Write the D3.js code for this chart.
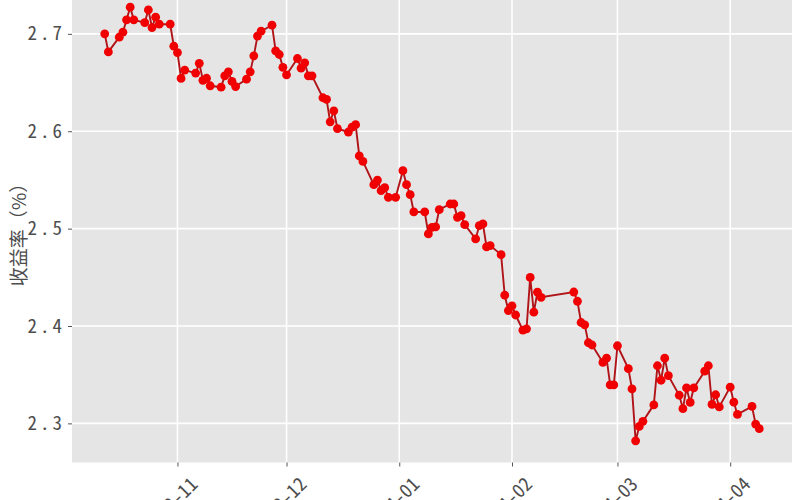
<!DOCTYPE html>
<html>
<head>
<meta charset="utf-8">
<script src="https://cdn.jsdelivr.net/npm/d3@7"></script>
<style>
  html, body { margin: 0; padding: 0; background: #ffffff; }
  svg { display: block; }
</style>
</head>
<body>
<svg id="chart" width="800" height="500"></svg>
<script>
const dates = [
  "2023-10-12","2023-10-13","2023-10-16","2023-10-17","2023-10-18","2023-10-19","2023-10-20",
  "2023-10-23","2023-10-24","2023-10-25","2023-10-26","2023-10-27","2023-10-30","2023-10-31",
  "2023-11-01","2023-11-02","2023-11-03","2023-11-06","2023-11-07","2023-11-08","2023-11-09",
  "2023-11-10","2023-11-13","2023-11-14","2023-11-15","2023-11-16","2023-11-17","2023-11-20",
  "2023-11-21","2023-11-22","2023-11-23","2023-11-24","2023-11-27","2023-11-28","2023-11-29",
  "2023-11-30","2023-12-01","2023-12-04","2023-12-05","2023-12-06","2023-12-07","2023-12-08",
  "2023-12-11","2023-12-12","2023-12-13","2023-12-14","2023-12-15","2023-12-18","2023-12-19",
  "2023-12-20","2023-12-21","2023-12-22","2023-12-25","2023-12-26","2023-12-27","2023-12-28",
  "2023-12-29","2023-12-31","2024-01-02","2024-01-03","2024-01-04","2024-01-05","2024-01-08",
  "2024-01-09","2024-01-10","2024-01-11","2024-01-12","2024-01-15","2024-01-16","2024-01-17",
  "2024-01-18","2024-01-19","2024-01-22","2024-01-23","2024-01-24","2024-01-25","2024-01-26",
  "2024-01-29","2024-01-30","2024-01-31","2024-02-01","2024-02-02","2024-02-04","2024-02-05",
  "2024-02-06","2024-02-07","2024-02-08","2024-02-09","2024-02-18","2024-02-19","2024-02-20",
  "2024-02-21","2024-02-22","2024-02-23","2024-02-26","2024-02-27","2024-02-28","2024-02-29",
  "2024-03-01","2024-03-04","2024-03-05","2024-03-06","2024-03-07","2024-03-08","2024-03-11",
  "2024-03-12","2024-03-13","2024-03-14","2024-03-15","2024-03-18","2024-03-19","2024-03-20",
  "2024-03-21","2024-03-22","2024-03-25","2024-03-26","2024-03-27","2024-03-28","2024-03-29",
  "2024-04-01","2024-04-02","2024-04-03","2024-04-07","2024-04-08","2024-04-09"
];
const yields = [
  2.700,2.6815,2.6966,2.7017,2.7144,2.7274,2.7144,
  2.7116,2.7246,2.7065,2.7171,2.7099,2.7099,2.6874,
  2.6808,2.6542,2.6628,2.6597,2.6697,2.6523,2.6544,
  2.6467,2.6453,2.6569,2.6610,2.6511,2.6459,2.6535,
  2.6610,2.6774,2.6977,2.7028,2.7089,2.6826,2.6788,
  2.6656,2.6579,2.6747,2.6648,2.6703,2.6569,2.6569,
  2.6344,2.6328,2.6097,2.6210,2.6026,2.5992,2.6043,
  2.6067,2.5746,2.5690,2.5451,2.5499,2.5390,2.5421,
  2.5321,2.5321,2.5595,2.5451,2.5349,2.5171,2.5171,
  2.4946,2.5013,2.5017,2.5195,2.5253,2.5253,2.5116,
  2.5133,2.5041,2.4894,2.5031,2.5048,2.4812,2.4826,
  2.4733,2.4316,2.4159,2.4207,2.4113,2.3957,2.3971,
  2.4499,2.4142,2.4347,2.4295,2.4349,2.4254,2.4036,
  2.4012,2.3828,2.3805,2.3626,2.3670,2.3395,2.3395,
  2.3797,2.3562,2.3354,2.2821,2.2969,2.3021,2.3190,
  2.3592,2.3443,2.3670,2.3490,2.3289,2.3151,2.3364,
  2.3215,2.3364,2.3536,2.3592,2.3195,2.3294,2.3169,
  2.3372,2.3218,2.3092,2.3174,2.2993,2.2946
];
const yTicks = [2.3, 2.4, 2.5, 2.6, 2.7];
const xTicks = ["2023-11-01","2023-12-01","2024-01-01","2024-02-01","2024-03-01","2024-04-01"];
const yTitle = "收益率（%）";

const parse = d3.utcParse("%Y-%m-%d");
const fmt = d3.utcFormat("%Y-%m");
const data = dates.map((d, i) => ({ date: parse(d), value: yields[i] }));

const panel = { left: 72, right: 792, top: -14.5, bottom: 462.5 };
const tickFont = "'Noto Sans Mono CJK SC', 'Noto Sans CJK SC', 'Liberation Mono', monospace";

// ggplot-style 5% expansion
const xExt = d3.extent(data, d => d.date);
const xPad = (xExt[1] - xExt[0]) * 0.05;
const x = d3.scaleUtc()
  .domain([new Date(+xExt[0] - xPad), new Date(+xExt[1] + xPad)])
  .range([panel.left, panel.right]);

const yExt = d3.extent(data, d => d.value);
const yPad = (yExt[1] - yExt[0]) * 0.05;
const y = d3.scaleLinear()
  .domain([yExt[0] - yPad, yExt[1] + yPad])
  .range([panel.bottom, panel.top]);

const svg = d3.select("#chart");

svg.append("rect")
  .attr("x", panel.left).attr("y", panel.top)
  .attr("width", panel.right - panel.left)
  .attr("height", panel.bottom - panel.top)
  .attr("fill", "#e5e5e5");

const grid = svg.append("g");
grid.selectAll("line.h").data(yTicks).join("line")
  .attr("class", "h")
  .attr("x1", panel.left).attr("x2", panel.right)
  .attr("y1", d => y(d)).attr("y2", d => y(d))
  .attr("stroke", "#ffffff").attr("stroke-width", 1.6);
grid.selectAll("line.v").data(xTicks).join("line")
  .attr("class", "v")
  .attr("y1", panel.top).attr("y2", panel.bottom)
  .attr("x1", d => x(parse(d))).attr("x2", d => x(parse(d)))
  .attr("stroke", "#ffffff").attr("stroke-width", 1.6);

// Y axis
const yAxis = d3.axisLeft(y).tickValues(yTicks).tickSize(4).tickPadding(3)
  .tickFormat(d3.format(".1f"));
const gy = svg.append("g").attr("transform", `translate(${panel.left},0)`).call(yAxis);
gy.select(".domain").remove();
gy.selectAll(".tick line").attr("stroke", "#555").attr("stroke-width", 1);
gy.selectAll(".tick text")
  .attr("fill", "#4d4d4d")
  .style("font-family", tickFont)
  .style("letter-spacing", "3px")
  .style("font-size", "19px");

// X axis
const xAxis = d3.axisBottom(x).tickValues(xTicks.map(parse)).tickSize(4)
  .tickFormat(d => fmt(d));
const gx = svg.append("g").attr("transform", `translate(0,${panel.bottom})`).call(xAxis);
gx.select(".domain").remove();
gx.selectAll(".tick line").attr("stroke", "#555").attr("stroke-width", 1);
gx.selectAll(".tick text")
  .attr("fill", "#4d4d4d")
  .attr("text-anchor", "end")
  .attr("x", 0).attr("y", 0).attr("dy", 0)
  .attr("transform", "translate(21,23) rotate(-45)")
  .style("font-family", tickFont)
  .style("font-size", "19px");

// Y title
svg.append("text")
  .attr("transform", `translate(26,${(panel.top + panel.bottom) / 2 + 6}) rotate(-90)`)
  .attr("text-anchor", "middle")
  .attr("fill", "#4d4d4d")
  .style("font-family", "'Noto Sans CJK SC', sans-serif")
  .style("font-size", "19px")
  .text(yTitle);

// Line + points
const line = d3.line().x(d => x(d.date)).y(d => y(d.value));
svg.append("path").datum(data)
  .attr("d", line)
  .attr("fill", "none")
  .attr("stroke", "#b01419")
  .attr("stroke-width", 1.9);

svg.append("g").selectAll("circle").data(data).join("circle")
  .attr("cx", d => x(d.date))
  .attr("cy", d => y(d.value))
  .attr("r", 4.4)
  .attr("fill", "#f00000");
</script>
</body>
</html>
